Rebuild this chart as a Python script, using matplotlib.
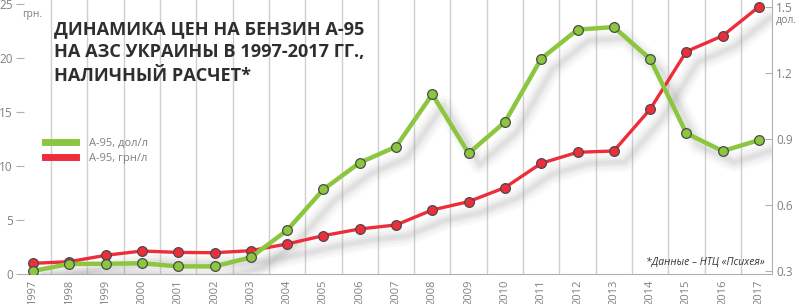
import matplotlib
matplotlib.use("Agg")
import matplotlib.pyplot as plt
import matplotlib.transforms as mtransforms
from matplotlib.lines import Line2D

years = list(range(1997, 2018))
uah_price = [0.99, 1.14, 1.73, 2.13, 2.0, 1.97, 2.16, 2.78, 3.55, 4.17, 4.54,
             5.93, 6.7, 8.0, 10.25, 11.27, 11.39, 15.25, 20.6, 22.06, 24.75]
usd_price = [0.30, 0.332, 0.333, 0.335, 0.321, 0.321, 0.362, 0.485, 0.671, 0.792, 0.865,
             1.103, 0.835, 0.977, 1.265, 1.397, 1.409, 1.264, 0.926, 0.845, 0.895]
left_ticks = [0, 5, 10, 15, 20, 25]
right_ticks = [0.3, 0.6, 0.9, 1.2, 1.5]
title_lines = ['ДИНАМИКА ЦЕН НА БЕНЗИН А-95',
               'НА АЗС УКРАИНЫ В 1997-2017 ГГ.,',
               'НАЛИЧНЫЙ РАСЧЕТ*']
legend_labels = ['А-95, дол/л', 'А-95, грн/л']

FONT = ['Open Sans', 'DejaVu Sans']
plt.rcParams['font.family'] = FONT

GREEN = '#8cc63f'
RED = '#ee2d3b'
GRAY = '#808080'
GRID = '#cfcfcf'

fig = plt.figure(figsize=(8, 3.04), dpi=100)
ax = fig.add_axes([24/800, 30/304, (772-24)/800, 274/304])
ax2 = ax.twinx()

XL = (1997 - 9/36.3, 2017 + 13/36.3)
YL = (0, 274/10.8)
ax.set_xlim(*XL)
ax.set_ylim(*YL)
ax2.set_ylim(0.3 - 3/220, 1.5 + 7/220)

# vertical gridlines between years
for y in years[:-1]:
    ax.axvline(y + 0.5, color=GRID, lw=1, zorder=0)

# soft shadows
off = mtransforms.offset_copy(ax.transData, fig=fig, x=11, y=-11, units='dots')
off2 = mtransforms.offset_copy(ax2.transData, fig=fig, x=11, y=-11, units='dots')
for lw, a in [(14, 0.05), (10, 0.07), (6, 0.10), (3, 0.10)]:
    ax.plot(years, uah_price, color='#9a9a9a', lw=lw, alpha=a, transform=off,
            solid_capstyle='round', solid_joinstyle='round', zorder=1)
    ax.plot(years, usd_price, color='#9a9a9a', lw=lw, alpha=a, transform=off2,
            solid_capstyle='round', solid_joinstyle='round', zorder=1)
ax.set_xlim(*XL)
ax.set_ylim(*YL)

ax.plot(years, uah_price, color=RED, lw=2.4, marker='o', ms=7, mfc=RED,
        mec='#4a4a4a', mew=0.9, zorder=3)
ax2.plot(years, usd_price, color=GREEN, lw=3.2, marker='o', ms=7, mfc=GREEN,
         mec='#4a4a4a', mew=0.9, zorder=3)

# spines
for s in ['top', 'left', 'right']:
    ax.spines[s].set_visible(False)
for s in ['top', 'left', 'bottom']:
    ax2.spines[s].set_visible(False)
ax2.spines['right'].set_color('#b0b0b0')
ax.spines['bottom'].set_color('#b0b0b0')

ax.set_xticks(years)
ax.set_xticklabels([str(y) for y in years], rotation=90, color=GRAY, fontsize=8)
ax.tick_params(axis='x', length=0, pad=4)
ax.set_yticks(left_ticks)
ax.set_yticklabels([str(v) for v in left_ticks], color=GRAY, fontsize=8.5)
ax.tick_params(axis='y', length=6, color='#b0b0b0', pad=2, direction='out')
ax2.set_yticks(right_ticks)
ax2.set_yticklabels([f"{v:.1f}" for v in right_ticks], color=GRAY, fontsize=8.5)
ax2.tick_params(axis='y', length=5, color='#b0b0b0', pad=3, direction='in')

fig.text(22/800, 1 - 14/304, 'грн.', color=GRAY, fontsize=7.5, va='center', ha='left')
fig.text(776/800, 1 - 20/304, 'дол.', color=GRAY, fontsize=7.5, va='center', ha='left')

for i, line in enumerate(title_lines):
    fig.text(54/800, 1 - (34 + 23.3*i)/304, line, color='#2e2e2e', fontsize=13.1,
             fontweight='bold', va='baseline', ha='left')

h1 = Line2D([], [], color=GREEN, lw=5)
h2 = Line2D([], [], color=RED, lw=5)
fig.legend([h1, h2], legend_labels, loc='center left',
           bbox_to_anchor=(35/800, 1 - 151/304), frameon=False, fontsize=8,
           handlelength=2.8, handletextpad=1.2, labelspacing=0.3,
           labelcolor=GRAY)

fig.text(765/800, 1 - 262/304, '*Данные – НТЦ «Психея»', color='#333333',
         fontsize=7.5, style='italic', ha='right', va='center')

fig.savefig('out.png', dpi=100)
